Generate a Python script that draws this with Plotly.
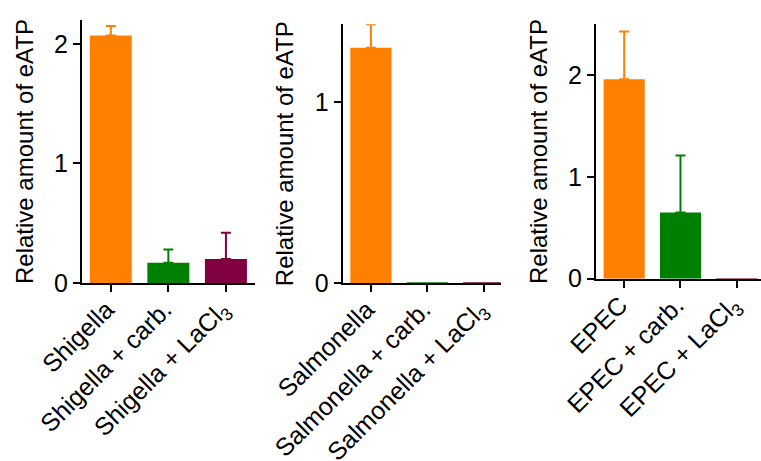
import plotly.graph_objects as go

# ---- data ----
shigella_labels = ["Shigella", "Shigella + carb.", "Shigella + LaCl<sub>3</sub>"]
shigella_values = [2.07, 0.17, 0.20]
shigella_errors = [0.08, 0.11, 0.22]

salmonella_labels = ["Salmonella", "Salmonella + carb.", "Salmonella + LaCl<sub>3</sub>"]
salmonella_values = [1.30, 0.003, 0.003]
salmonella_errors = [0.13, 0.0, 0.0]

epec_labels = ["EPEC", "EPEC + carb.", "EPEC + LaCl<sub>3</sub>"]
epec_values = [1.96, 0.65, 0.003]
epec_errors = [0.47, 0.56, 0.0]

bar_colors = ["#FF8000", "#008000", "#800040"]
y_title = "Relative amount of eATP"

W, H = 761, 461
FONT = "Liberation Sans, Arial, Helvetica, sans-serif"

fig = go.Figure()

panels = [
    (shigella_labels, shigella_values, shigella_errors, "x", "y"),
    (salmonella_labels, salmonella_values, salmonella_errors, "x2", "y2"),
    (epec_labels, epec_values, epec_errors, "x3", "y3"),
]

for labels, vals, errs, xa, ya in panels:
    for i in range(3):
        show_err = errs[i] > 0
        fig.add_trace(go.Bar(
            x=[i], y=[vals[i]],
            marker=dict(color=bar_colors[i], line=dict(width=0)),
            width=0.73,
            error_y=dict(type="data", symmetric=False, array=[errs[i]], arrayminus=[0],
                         color=bar_colors[i], thickness=2, width=5, visible=show_err),
            xaxis=xa, yaxis=ya, showlegend=False,
        ))

def px_x(p):
    return p / W

def px_y(p):
    return 1 - p / H

common_x = dict(
    showline=True, linecolor="black", linewidth=2, ticks="outside", ticklen=7,
    tickwidth=2, tickcolor="black", tickangle=-45, showgrid=False, zeroline=False,
    tickfont=dict(family=FONT, size=25, color="black"), automargin=False,
    tickmode="array", tickvals=[0, 1, 2],
    ticklabelstandoff=-7, ticklabelshift=-4,
)
common_y = dict(
    showline=True, linecolor="black", linewidth=2, ticks="outside", ticklen=7,
    tickwidth=2, tickcolor="black", showgrid=False, zeroline=False,
    tickfont=dict(family=FONT, size=25, color="black"), automargin=False,
    title=dict(text=y_title, font=dict(family=FONT, size=24, color="black"), standoff=14),
)

fig.update_layout(
    width=W, height=H,
    margin=dict(l=0, r=0, t=0, b=0),
    paper_bgcolor="white", plot_bgcolor="white",
    xaxis=dict(common_x, domain=[px_x(82), px_x(254.7)], range=[-0.5, 2.5],
               ticktext=shigella_labels, anchor="y"),
    yaxis=dict(common_y, domain=[px_y(283), px_y(20)], range=[0, 2.2],
               tickvals=[0, 1, 2], anchor="x"),
    xaxis2=dict(common_x, domain=[px_x(342.7), px_x(500.7)], range=[-0.5, 2.3],
                ticktext=salmonella_labels, anchor="y2"),
    yaxis2=dict(common_y, domain=[px_y(283), px_y(24.3)], range=[0, 1.43],
                tickvals=[0, 1], anchor="x2"),
    xaxis3=dict(common_x, domain=[px_x(596), 1.0], range=[-0.5, 2.43],
                ticktext=epec_labels, anchor="y3"),
    yaxis3=dict(common_y, domain=[px_y(278.7), px_y(24.3)], range=[0, 2.5],
                tickvals=[0, 1, 2], anchor="x3"),
    bargap=0.27,
)

fig.write_html(
    "out.html",
    config={"displayModeBar": False},
    post_script="document.body.style.margin='0';document.body.style.overflow='hidden';",
)
